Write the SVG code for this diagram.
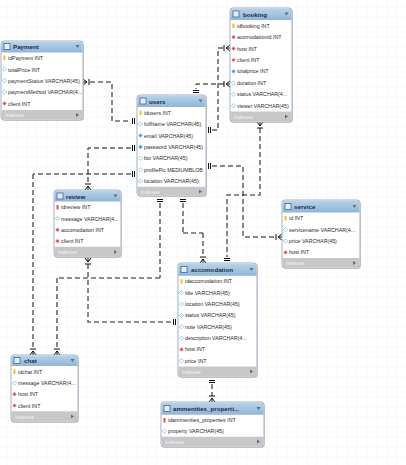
<svg xmlns="http://www.w3.org/2000/svg" width="406" height="465" viewBox="0 0 406 465">
<style>
text{font-family:"Liberation Sans","DejaVu Sans",Arial,sans-serif;}
.box{fill:#ffffff;stroke:#8c9db3;stroke-width:0.8;}
.shadow{fill:#b8b8b8;opacity:0.5;}
.hdr{fill:url(#hg);}
.ftr{fill:#c7c7c7;}
.ttl{font-size:6.2px;font-weight:bold;fill:#1b2b3c;}
.row{font-size:5.3px;fill:#2a2a2a;}
.idx{font-size:5.3px;fill:#f4f4f4;}
.key{fill:#f0c020;}
.pk{fill:#e05050;}
.nn{fill:#3aa9cc;}
.nul{fill:#ffffff;stroke:#86b8cc;stroke-width:0.7;}
.fk{fill:#d95d5d;}
.ic{fill:#e4eef8;stroke:#44679a;stroke-width:0.8;}
.tri{fill:#5f6e7e;}
.blk{fill:none;stroke:#111;stroke-width:1;stroke-dasharray:5 3;}
.gry{fill:none;stroke:#6a6a6a;stroke-width:1.6;stroke-dasharray:5 3;}
.mk{fill:none;stroke:#111;stroke-width:1;}
</style>
<defs>
<linearGradient id="hg" x1="0" y1="0" x2="0" y2="1">
<stop offset="0" stop-color="#b9d3ea"/>
<stop offset="1" stop-color="#90b5d7"/>
</linearGradient>
<pattern id="grid" width="10" height="10" patternUnits="userSpaceOnUse" x="6.5" y="6.5">
<path d="M10,0 L0,0 L0,10" fill="none" stroke="#e9e9e9" stroke-width="0.7"/>
</pattern>
<g id="crow" class="mk"><path d="M-3,0 L0,-4 L3,0 M0,0 L0,-4 M-3,-6 L3,-6"/></g>
<g id="one" class="mk"><path d="M-3,-2.5 L3,-2.5 M-3,-4.5 L3,-4.5"/></g>
</defs>
<rect width="406" height="465" fill="#ffffff"/>
<rect width="406" height="465" fill="url(#grid)"/>

<g id="connectors">
<path class="gry" d="M90,82 H112 V121 H131"/>
<use href="#crow" transform="translate(83,82) rotate(90)"/>
<use href="#one" transform="translate(137,121) rotate(-90)"/>

<path class="blk" d="M131,148 H88 V184"/>
<use href="#crow" transform="translate(88,190)"/>
<use href="#one" transform="translate(137,148) rotate(-90)"/>

<path class="blk" d="M131,174 H33"/>
<path class="gry" d="M33,174 V349"/>
<use href="#crow" transform="translate(33,355)"/>
<use href="#one" transform="translate(137,174) rotate(-90)"/>

<path class="blk" d="M160,203 V278"/>
<path class="gry" d="M160,278 H57"/>
<path class="blk" d="M57,278 V349"/>
<use href="#crow" transform="translate(57,355)"/>
<use href="#one" transform="translate(160,197) rotate(180)"/>

<path class="blk" d="M183,203 V233"/>
<path class="gry" d="M183,233 H203"/>
<path class="blk" d="M203,233 V257"/>
<use href="#crow" transform="translate(203,263)"/>
<use href="#one" transform="translate(183,197) rotate(180)"/>

<path class="gry" d="M260,128 V195 H227 V257"/>
<use href="#crow" transform="translate(260,122) rotate(180)"/>
<use href="#one" transform="translate(227,263)"/>

<path class="blk" d="M212,166 H243 V237 H276"/>
<use href="#crow" transform="translate(282,237) rotate(-90)"/>
<use href="#one" transform="translate(206,166) rotate(90)"/>

<path class="blk" d="M212,130 H218 V48 H224"/>
<use href="#crow" transform="translate(230,48) rotate(-90)"/>
<use href="#one" transform="translate(206,130) rotate(90)"/>

<path class="blk" d="M224,84 H196 V89"/>
<use href="#crow" transform="translate(230,84) rotate(-90)"/>
<use href="#one" transform="translate(196,95)"/>

<path class="gry" d="M88,264 V322 H172"/>
<use href="#crow" transform="translate(88,258) rotate(180)"/>
<use href="#one" transform="translate(178,322) rotate(-90)"/>

<path class="blk" d="M212,384 V396"/>
<use href="#crow" transform="translate(212,402)"/>
<use href="#one" transform="translate(212,378) rotate(180)"/>
</g>

<g id="Payment">
<rect class="shadow" x="2" y="42" width="82" height="79" rx="3"/>
<rect class="box" x="1" y="41" width="82" height="79" rx="3"/>
<path class="hdr" d="M1.4,52.5 V44 a2.6,2.6 0 0 1 2.6,-2.6 H80 a2.6,2.6 0 0 1 2.6,2.6 V52.5 Z"/>
<rect class="ic" x="4" y="43.5" width="6" height="6"/>
<text class="ttl" x="13" y="49">Payment</text>
<path class="tri" d="M75.5,45 h4 l-2,3 z"/>
<rect class="key" x="3.5" y="55.5" width="2" height="4.5"/>
<text class="row" x="8" y="60">idPayment INT</text>
<rect class="nul" x="3" y="67.5" width="3" height="3" transform="rotate(45 4.5 69)"/>
<text class="row" x="8" y="71.5">totalPrice INT</text>
<rect class="nul" x="3" y="79" width="3" height="3" transform="rotate(45 4.5 80.5)"/>
<text class="row" x="8" y="82.5">paymentStatus VARCHAR(45)</text>
<rect class="nul" x="3" y="90.5" width="3" height="3" transform="rotate(45 4.5 92)"/>
<text class="row" x="8" y="94">paymentMethod VARCHAR(4...</text>
<rect class="fk" x="3" y="102" width="3" height="3" transform="rotate(45 4.5 103.5)"/>
<text class="row" x="8" y="105.5">client INT</text>
<path class="ftr" d="M1.4,110 H82.6 V117 a2.6,2.6 0 0 1 -2.6,2.6 H4 a2.6,2.6 0 0 1 -2.6,-2.6 Z"/>
<text class="idx" x="5" y="117">Indexes</text>
<path class="tri" d="M76,113 v4 l3,-2 z"/>
</g>

<g id="users">
<rect class="shadow" x="138" y="96" width="69" height="101" rx="3"/>
<rect class="box" x="137" y="95" width="69" height="101" rx="3"/>
<path class="hdr" d="M137.4,107 V98 a2.6,2.6 0 0 1 2.6,-2.6 H203 a2.6,2.6 0 0 1 2.6,2.6 V107 Z"/>
<rect class="ic" x="140" y="98" width="6" height="6"/>
<text class="ttl" x="149" y="103.5">users</text>
<path class="tri" d="M198.5,99.5 h4 l-2,3 z"/>
<rect class="key" x="139.5" y="110.5" width="2" height="4.5"/>
<text class="row" x="144" y="114.7">idusers INT</text>
<rect class="nul" x="139" y="122.6" width="3" height="3" transform="rotate(45 140.5 124.1)"/>
<text class="row" x="144" y="126.1">fullName VARCHAR(45)</text>
<rect class="nn" x="139" y="134" width="3" height="3" transform="rotate(45 140.5 135.5)"/>
<text class="row" x="144" y="137.5">email VARCHAR(45)</text>
<rect class="nn" x="139" y="145.4" width="3" height="3" transform="rotate(45 140.5 146.9)"/>
<text class="row" x="144" y="148.9">password VARCHAR(45)</text>
<rect class="nul" x="139" y="156.8" width="3" height="3" transform="rotate(45 140.5 158.3)"/>
<text class="row" x="144" y="160.3">bio VARCHAR(45)</text>
<rect class="nul" x="139" y="168.2" width="3" height="3" transform="rotate(45 140.5 169.7)"/>
<text class="row" x="144" y="171.7">profilePic MEDIUMBLOB</text>
<rect class="nul" x="139" y="179.6" width="3" height="3" transform="rotate(45 140.5 181.1)"/>
<text class="row" x="144" y="183.1">location VARCHAR(45)</text>
<path class="ftr" d="M137.4,186.8 H205.6 V193 a2.6,2.6 0 0 1 -2.6,2.6 H140 a2.6,2.6 0 0 1 -2.6,-2.6 Z"/>
<text class="idx" x="141" y="193.5">Indexes</text>
<path class="tri" d="M199,189.5 v4 l3,-2 z"/>
</g>

<g id="booking">
<rect class="shadow" x="231" y="9" width="62" height="114" rx="3"/>
<rect class="box" x="230" y="8" width="62" height="114" rx="3"/>
<path class="hdr" d="M230.4,20 V11 a2.6,2.6 0 0 1 2.6,-2.6 H289 a2.6,2.6 0 0 1 2.6,2.6 V20 Z"/>
<rect class="ic" x="233" y="11" width="6" height="6"/>
<text class="ttl" x="243" y="16.5">booking</text>
<path class="tri" d="M284.5,12.5 h4 l-2,3 z"/>
<rect class="key" x="232.5" y="23.5" width="2" height="4.5"/>
<text class="row" x="237" y="27.7">idbooking INT</text>
<rect class="fk" x="232" y="35.6" width="3" height="3" transform="rotate(45 233.5 37.1)"/>
<text class="row" x="237" y="39.1">acomodationid INT</text>
<rect class="fk" x="232" y="47.1" width="3" height="3" transform="rotate(45 233.5 48.6)"/>
<text class="row" x="237" y="50.6">host INT</text>
<rect class="fk" x="232" y="58.5" width="3" height="3" transform="rotate(45 233.5 60)"/>
<text class="row" x="237" y="62">client INT</text>
<rect class="nn" x="232" y="69.9" width="3" height="3" transform="rotate(45 233.5 71.4)"/>
<text class="row" x="237" y="73.4">totalprice INT</text>
<rect class="nul" x="232" y="81.4" width="3" height="3" transform="rotate(45 233.5 82.9)"/>
<text class="row" x="237" y="84.9">duration INT</text>
<rect class="nul" x="232" y="92.8" width="3" height="3" transform="rotate(45 233.5 94.3)"/>
<text class="row" x="237" y="96.3">status VARCHAR(4...</text>
<rect class="nul" x="232" y="104.2" width="3" height="3" transform="rotate(45 233.5 105.7)"/>
<text class="row" x="237" y="107.7">viewer VARCHAR(45)</text>
<path class="ftr" d="M230.4,111.4 H291.6 V119 a2.6,2.6 0 0 1 -2.6,2.6 H233 a2.6,2.6 0 0 1 -2.6,-2.6 Z"/>
<text class="idx" x="234" y="118.5">Indexes</text>
<path class="tri" d="M285,114.5 v4 l3,-2 z"/>
</g>

<g id="review">
<rect class="shadow" x="55" y="191" width="67" height="67" rx="3"/>
<rect class="box" x="54" y="190" width="67" height="67" rx="3"/>
<path class="hdr" d="M54.4,201.5 V193 a2.6,2.6 0 0 1 2.6,-2.6 H118 a2.6,2.6 0 0 1 2.6,2.6 V201.5 Z"/>
<rect class="ic" x="57" y="193" width="6" height="6"/>
<text class="ttl" x="66" y="198.5">review</text>
<path class="tri" d="M113.5,194.5 h4 l-2,3 z"/>
<rect class="pk" x="56.5" y="205" width="2" height="4.5"/>
<text class="row" x="61" y="209.2">idreview INT</text>
<rect class="nul" x="56" y="217" width="3" height="3" transform="rotate(45 57.5 218.5)"/>
<text class="row" x="61" y="220.5">message VARCHAR(4...</text>
<rect class="fk" x="56" y="228.3" width="3" height="3" transform="rotate(45 57.5 229.8)"/>
<text class="row" x="61" y="231.8">accomodation INT</text>
<rect class="fk" x="56" y="239.6" width="3" height="3" transform="rotate(45 57.5 241.1)"/>
<text class="row" x="61" y="243.1">client INT</text>
<path class="ftr" d="M54.4,246.7 H120.6 V254 a2.6,2.6 0 0 1 -2.6,2.6 H57 a2.6,2.6 0 0 1 -2.6,-2.6 Z"/>
<text class="idx" x="58" y="253.8">Indexes</text>
<path class="tri" d="M114,250 v4 l3,-2 z"/>
</g>

<g id="service">
<rect class="shadow" x="283" y="201" width="78" height="68" rx="3"/>
<rect class="box" x="282" y="200" width="78" height="68" rx="3"/>
<path class="hdr" d="M282.4,212.5 V203 a2.6,2.6 0 0 1 2.6,-2.6 H357 a2.6,2.6 0 0 1 2.6,2.6 V212.5 Z"/>
<rect class="ic" x="285" y="203.5" width="6" height="6"/>
<text class="ttl" x="294" y="209">service</text>
<path class="tri" d="M352.5,205 h4 l-2,3 z"/>
<rect class="key" x="284.5" y="216" width="2" height="4.5"/>
<text class="row" x="289" y="220.2">id INT</text>
<rect class="nul" x="284" y="228.1" width="3" height="3" transform="rotate(45 285.5 229.6)"/>
<text class="row" x="289" y="231.6">servicename VARCHAR(4...</text>
<rect class="nul" x="284" y="239.5" width="3" height="3" transform="rotate(45 285.5 241)"/>
<text class="row" x="289" y="243">price VARCHAR(45)</text>
<rect class="fk" x="284" y="250.9" width="3" height="3" transform="rotate(45 285.5 252.4)"/>
<text class="row" x="289" y="254.4">host INT</text>
<path class="ftr" d="M282.4,258.1 H359.6 V265 a2.6,2.6 0 0 1 -2.6,2.6 H285 a2.6,2.6 0 0 1 -2.6,-2.6 Z"/>
<text class="idx" x="286" y="265">Indexes</text>
<path class="tri" d="M353,261 v4 l3,-2 z"/>
</g>

<g id="accomodation">
<rect class="shadow" x="179" y="264" width="79" height="114" rx="3"/>
<rect class="box" x="178" y="263" width="79" height="114" rx="3"/>
<path class="hdr" d="M178.4,275.7 V266 a2.6,2.6 0 0 1 2.6,-2.6 H254 a2.6,2.6 0 0 1 2.6,2.6 V275.7 Z"/>
<rect class="ic" x="181" y="266.5" width="6" height="6"/>
<text class="ttl" x="191" y="272">accomodation</text>
<path class="tri" d="M249.5,268 h4 l-2,3 z"/>
<rect class="key" x="180.5" y="279.2" width="2" height="4.5"/>
<text class="row" x="185" y="283.4">idaccomodation INT</text>
<rect class="nul" x="180" y="291.2" width="3" height="3" transform="rotate(45 181.5 292.7)"/>
<text class="row" x="185" y="294.7">title VARCHAR(45)</text>
<rect class="nul" x="180" y="302.6" width="3" height="3" transform="rotate(45 181.5 304.1)"/>
<text class="row" x="185" y="306.1">location VARCHAR(45)</text>
<rect class="nul" x="180" y="313.9" width="3" height="3" transform="rotate(45 181.5 315.4)"/>
<text class="row" x="185" y="317.4">status VARCHAR(45)</text>
<rect class="nul" x="180" y="325.2" width="3" height="3" transform="rotate(45 181.5 326.7)"/>
<text class="row" x="185" y="328.7">note VARCHAR(45)</text>
<rect class="nul" x="180" y="336.6" width="3" height="3" transform="rotate(45 181.5 338.1)"/>
<text class="row" x="185" y="340.1">description VARCHAR(4...</text>
<rect class="fk" x="180" y="347.9" width="3" height="3" transform="rotate(45 181.5 349.4)"/>
<text class="row" x="185" y="351.4">host INT</text>
<rect class="nul" x="180" y="359.3" width="3" height="3" transform="rotate(45 181.5 360.8)"/>
<text class="row" x="185" y="362.8">price INT</text>
<path class="ftr" d="M178.4,366.4 H256.6 V374 a2.6,2.6 0 0 1 -2.6,2.6 H181 a2.6,2.6 0 0 1 -2.6,-2.6 Z"/>
<text class="idx" x="182" y="373.5">Indexes</text>
<path class="tri" d="M250,369.5 v4 l3,-2 z"/>
</g>

<g id="chat">
<rect class="shadow" x="12" y="356" width="67" height="67" rx="3"/>
<rect class="box" x="11" y="355" width="67" height="67" rx="3"/>
<path class="hdr" d="M11.4,366 V358 a2.6,2.6 0 0 1 2.6,-2.6 H75 a2.6,2.6 0 0 1 2.6,2.6 V366 Z"/>
<rect class="ic" x="14" y="357.5" width="6" height="6"/>
<text class="ttl" x="24" y="363">chat</text>
<path class="tri" d="M70.5,359 h4 l-2,3 z"/>
<rect class="key" x="13.5" y="369.4" width="2" height="4.5"/>
<text class="row" x="18" y="373.6">idchat INT</text>
<rect class="nul" x="13" y="381.4" width="3" height="3" transform="rotate(45 14.5 382.9)"/>
<text class="row" x="18" y="384.9">message VARCHAR(4...</text>
<rect class="fk" x="13" y="392.7" width="3" height="3" transform="rotate(45 14.5 394.2)"/>
<text class="row" x="18" y="396.2">host INT</text>
<rect class="fk" x="13" y="404" width="3" height="3" transform="rotate(45 14.5 405.5)"/>
<text class="row" x="18" y="407.5">client INT</text>
<path class="ftr" d="M11.4,411.2 H77.6 V419 a2.6,2.6 0 0 1 -2.6,2.6 H14 a2.6,2.6 0 0 1 -2.6,-2.6 Z"/>
<text class="idx" x="15" y="418.5">Indexes</text>
<path class="tri" d="M71,414.5 v4 l3,-2 z"/>
</g>

<g id="ammenities_properties">
<rect class="shadow" x="162" y="403" width="103" height="45" rx="3"/>
<rect class="box" x="161" y="402" width="103" height="45" rx="3"/>
<path class="hdr" d="M161.4,414.7 V405 a2.6,2.6 0 0 1 2.6,-2.6 H261 a2.6,2.6 0 0 1 2.6,2.6 V414.7 Z"/>
<rect class="ic" x="164" y="405.5" width="6" height="6"/>
<text class="ttl" x="173" y="411">ammenities_properti...</text>
<path class="tri" d="M256.5,407 h4 l-2,3 z"/>
<rect class="pk" x="163.5" y="418" width="2" height="4.5"/>
<text class="row" x="168" y="422.2">idammenities_properties INT</text>
<rect class="nul" x="163" y="429.7" width="3" height="3" transform="rotate(45 164.5 431.2)"/>
<text class="row" x="168" y="433.2">property VARCHAR(45)</text>
<path class="ftr" d="M161.4,436.7 H263.6 V444 a2.6,2.6 0 0 1 -2.6,2.6 H164 a2.6,2.6 0 0 1 -2.6,-2.6 Z"/>
<text class="idx" x="165" y="443.5">Indexes</text>
<path class="tri" d="M257,439.5 v4 l3,-2 z"/>
</g>
</svg>
